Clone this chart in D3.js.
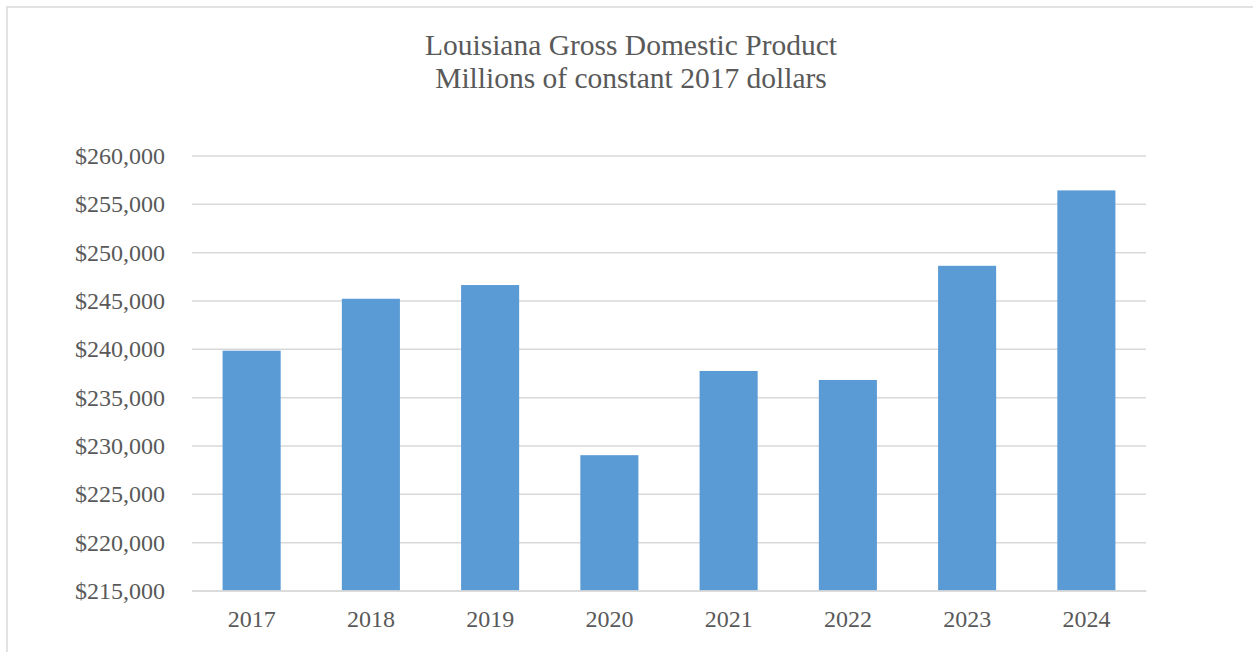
<!DOCTYPE html>
<html>
<head>
<meta charset="utf-8">
<script src="https://cdn.jsdelivr.net/npm/d3@7"></script>
<style>
  body { margin: 0; background: #fff; }
  svg { display: block; }
</style>
</head>
<body>
<svg width="1253" height="652"></svg>
<script>
(function(d3) {
    'use strict';

    // data
    const years = ['2017', '2018', '2019', '2020', '2021', '2022', '2023', '2024'];
    const gdp = [239810, 245180, 246600, 229000, 237710, 236780, 248590, 256390];
    const yTicks = [215000, 220000, 225000, 230000, 235000, 240000, 245000, 250000, 255000, 260000];
    const titleLines = ['Louisiana Gross Domestic Product', 'Millions of constant 2017 dollars'];

    const width = 1253, height = 652;
    const margin = { top: 155.5, right: 107, bottom: 61.5, left: 192 };
    const font = '"Liberation Serif", "Times New Roman", serif';
    const textColor = '#595959';
    const gridColor = '#d9d9d9';

    const svg = d3.select('svg');

    // outer chart frame
    svg.append('rect')
        .attr('x', 7)
        .attr('y', 7)
        .attr('width', width + 10)
        .attr('height', height + 10)
        .attr('fill', 'none')
        .attr('stroke', gridColor)
        .attr('stroke-width', 1.5);

    const x = d3.scaleBand()
        .domain(years)
        .range([margin.left, width - margin.right])
        .paddingInner(0.513)
        .paddingOuter(0.2565);

    const y = d3.scaleLinear()
        .domain([215000, 260000])
        .range([height - margin.bottom, margin.top]);

    const fmt = v => '$' + d3.format(',')(v);

    // gridlines + y labels
    const yAxis = svg.append('g')
        .attr('transform', `translate(${margin.left},0)`)
        .call(d3.axisLeft(y)
            .tickValues(yTicks)
            .tickFormat(fmt)
            .tickSize(-(width - margin.right - margin.left))
            .tickPadding(27));
    yAxis.select('.domain').remove();
    yAxis.selectAll('.tick line')
        .attr('stroke', gridColor)
        .attr('stroke-width', 1.5);
    yAxis.selectAll('.tick text')
        .attr('fill', textColor)
        .attr('font-family', font)
        .attr('font-size', 24)
        .attr('dy', '0.33em');

    // bars
    svg.append('g')
        .selectAll('rect')
        .data(gdp)
        .enter().append('rect')
        .attr('x', (d, i) => x(years[i]))
        .attr('width', x.bandwidth())
        .attr('y', d => y(d))
        .attr('height', d => y(215000) - y(d))
        .attr('fill', '#5b9bd5');

    // x axis
    const xAxis = svg.append('g')
        .attr('transform', `translate(0,${height - margin.bottom})`)
        .call(d3.axisBottom(x).tickSize(0).tickPadding(19));
    xAxis.select('.domain')
        .attr('stroke', gridColor)
        .attr('stroke-width', 1.5);
    xAxis.selectAll('.tick text')
        .attr('fill', textColor)
        .attr('font-family', font)
        .attr('font-size', 24)
        .attr('dy', '0.71em');

    // title
    svg.append('g')
        .selectAll('text')
        .data(titleLines)
        .enter().append('text')
        .attr('x', 631)
        .attr('y', (d, i) => 55 + i * 33)
        .attr('text-anchor', 'middle')
        .attr('fill', textColor)
        .attr('font-family', font)
        .attr('font-size', 29.5)
        .text(d => d);
}(d3));
</script>
</body>
</html>
